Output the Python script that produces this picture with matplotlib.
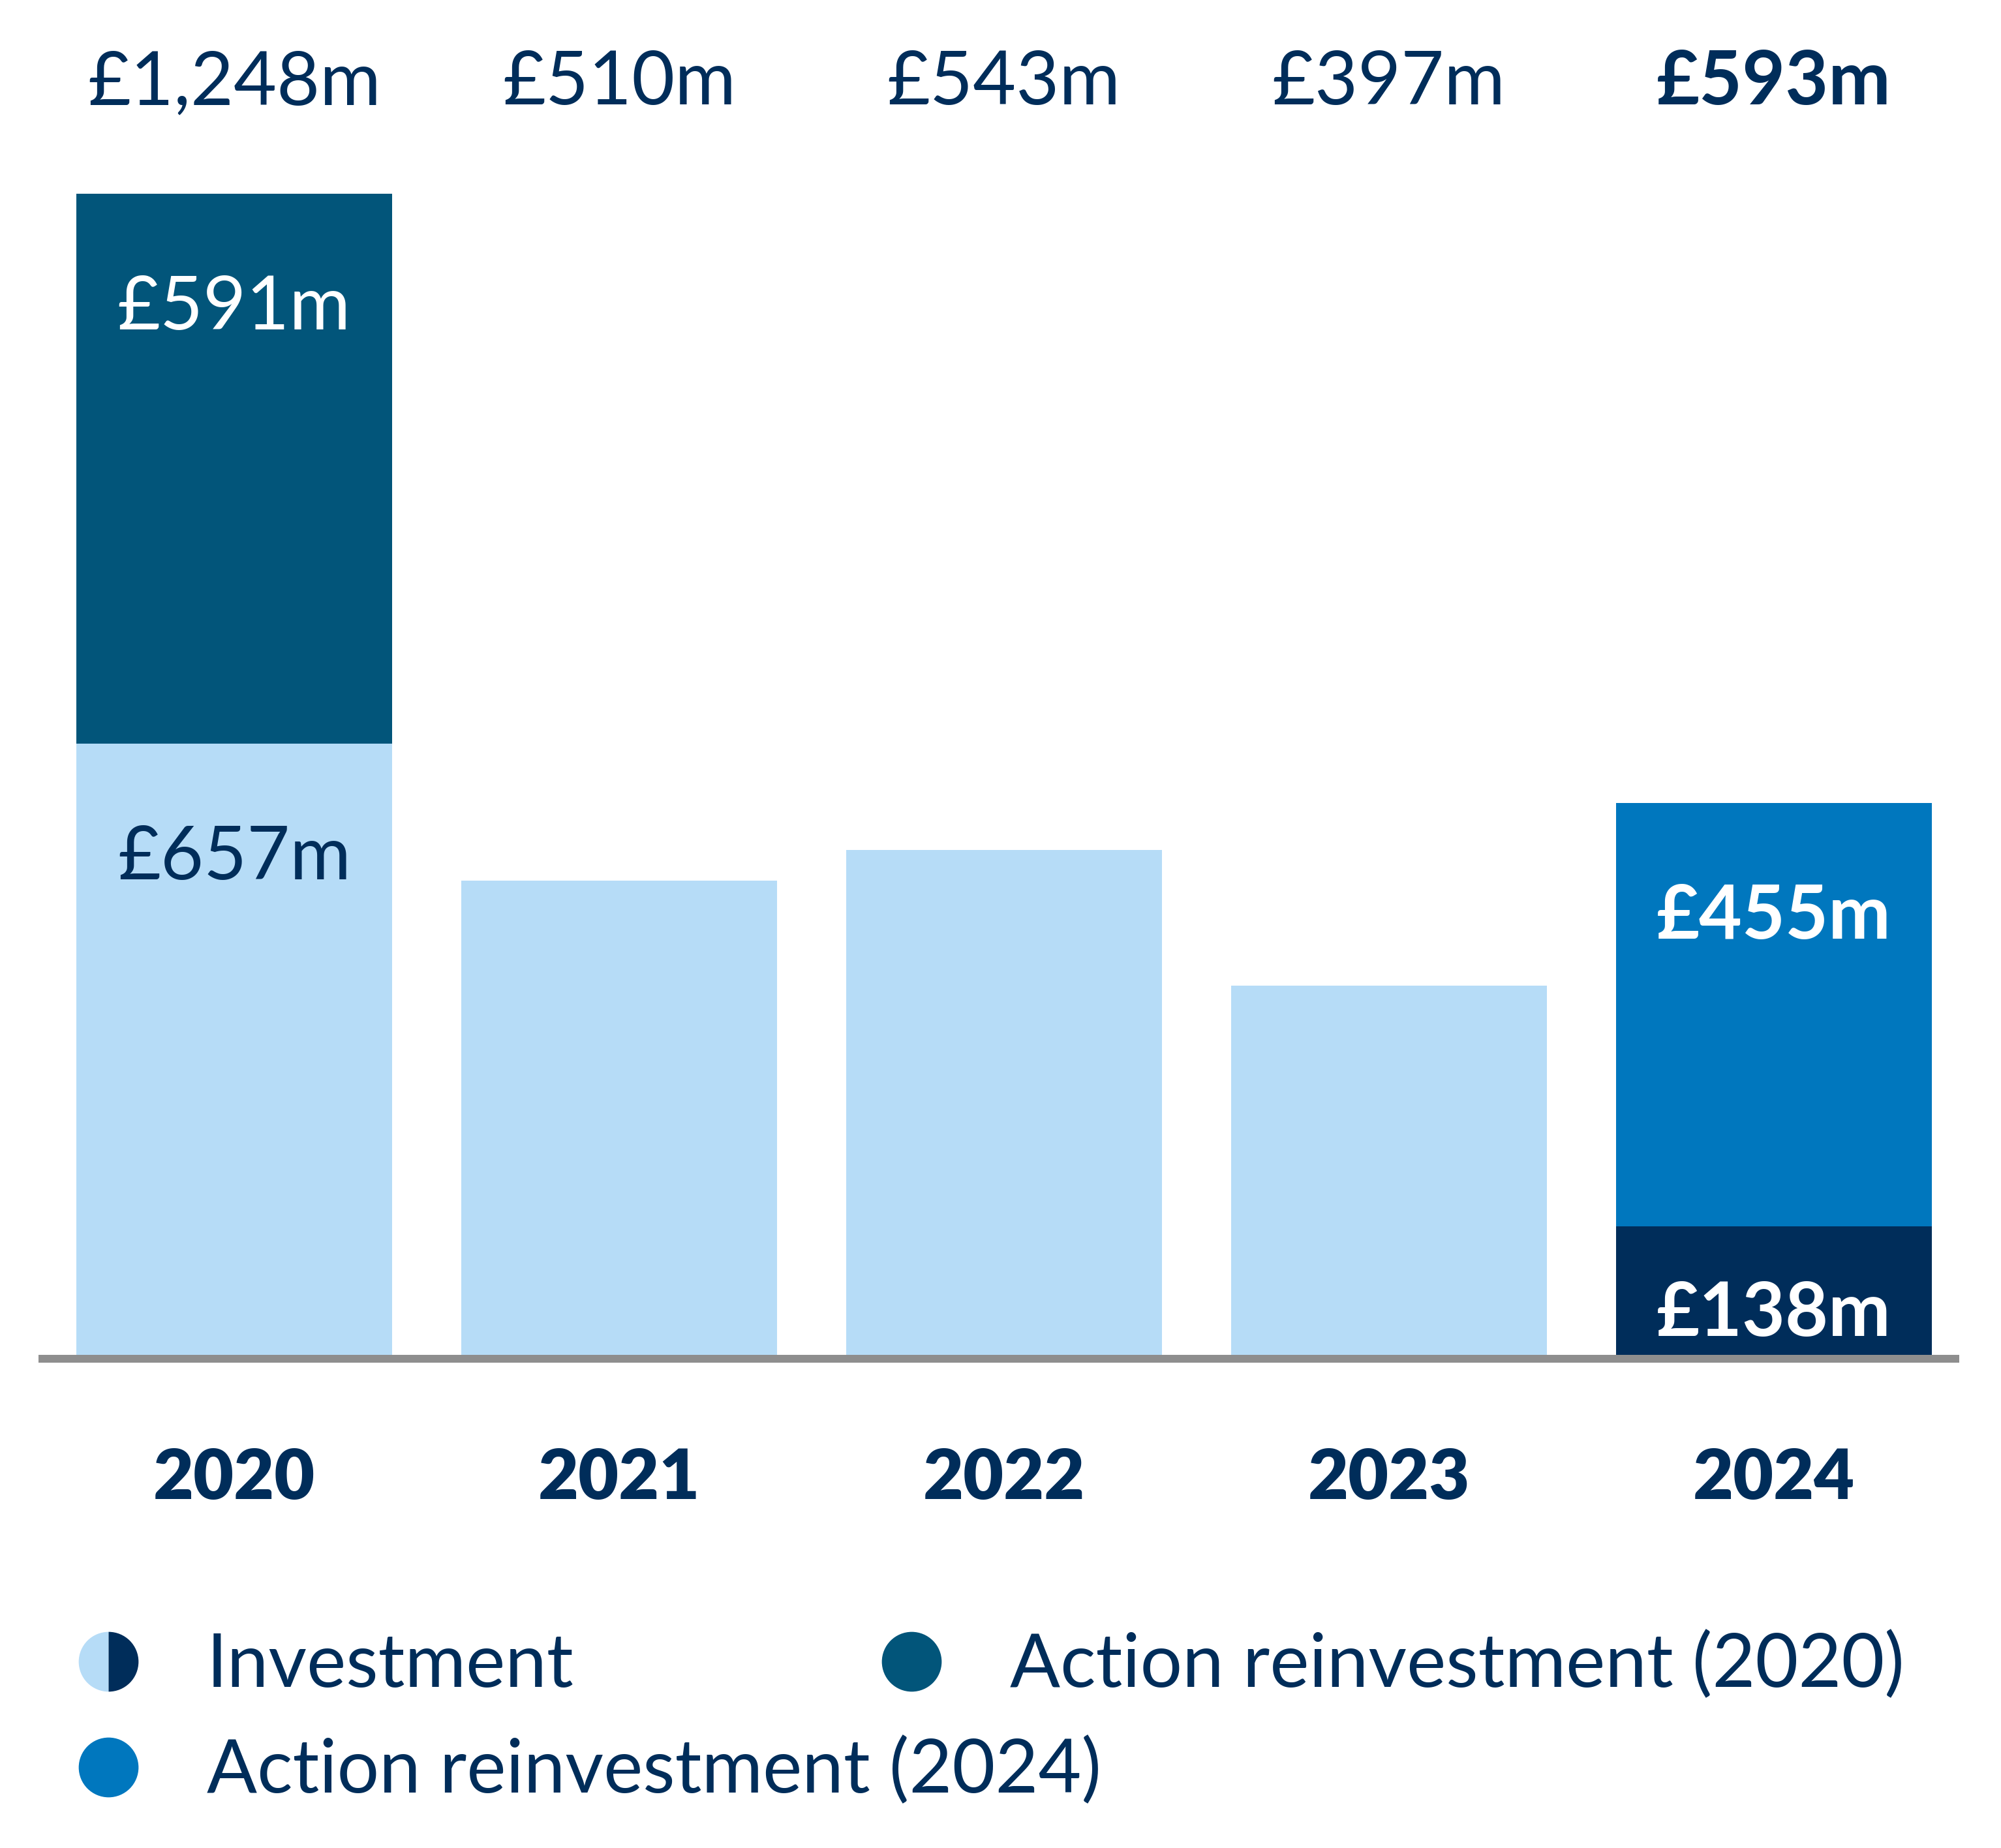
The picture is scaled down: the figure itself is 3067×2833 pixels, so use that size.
import matplotlib.pyplot as plt
import matplotlib.transforms as mtransforms
from matplotlib.lines import Line2D
import numpy as np

years = ["2020", "2021", "2022", "2023", "2024"]
investment = [657, 510, 543, 397, 138]
reinvest_2020 = [591, 0, 0, 0, 0]
reinvest_2024 = [0, 0, 0, 0, 455]

legend_labels = ["Investment", "Action reinvestment (2020)", "Action reinvestment (2024)"]

LIGHT = "#B6DCF7"
TEAL = "#02557A"
BLUE = "#0077BE"
NAVY = "#002D5A"
GREY = "#8E8E8E"

plt.rcParams['font.family'] = ['Lato', 'DejaVu Sans']

W, H = 3067, 2833
DPI = 100
fig = plt.figure(figsize=(W / DPI, H / DPI), dpi=DPI)

base_px = 2077
px_per_m = (base_px - 297) / 1248
ax = fig.add_axes([59 / W, 1 - base_px / H, (3003 - 59) / W, base_px / H])
ax.set_xlim(-0.508, 4.482)
ax.set_ylim(0, base_px / px_per_m)
ax.axis('off')

x = np.arange(len(years))
inv_colors = [LIGHT] * 4 + [NAVY]
width = 0.82

ax.bar(x, investment, width, color=inv_colors, linewidth=0)
ax.bar(x, reinvest_2020, width, bottom=investment, color=TEAL, linewidth=0)
bottom2 = np.array(investment) + np.array(reinvest_2020)
ax.bar(x, reinvest_2024, width, bottom=bottom2, color=BLUE, linewidth=0)

# baseline sits just under the bars
ax.axhline(-6 / px_per_m, color=GREY, linewidth=12 * 72 / DPI, zorder=3,
           clip_on=False, solid_capstyle='butt')

FS = 82
totals = np.array(investment) + np.array(reinvest_2020) + np.array(reinvest_2024)
trans_top = mtransforms.blended_transform_factory(ax.transData, ax.transAxes)
for i, t in enumerate(totals):
    last = i == len(years) - 1
    ax.text(x[i], (base_px - 160) / base_px, f"£{t:,}m", transform=trans_top,
            ha='center', va='baseline', fontsize=FS, color=NAVY,
            fontweight='bold' if last else 'normal')
    ax.text(x[i], -(2298 - base_px) / base_px, years[i], transform=trans_top,
            ha='center', va='baseline', fontsize=77, color=NAVY, fontweight='heavy')


def seg_label(i, bottom, value, color):
    if value == 0:
        return
    last = i == len(years) - 1
    h_px = value * px_per_m
    off = min(208, h_px - 29)
    ax.annotate(f"£{value}m", xy=(x[i], bottom + value), xytext=(0, -off * 72 / DPI),
                textcoords='offset points', ha='center', va='baseline',
                fontsize=FS, color=color, fontweight='bold' if last else 'normal')


# only stacked bars get segment labels
for i in range(len(years)):
    if reinvest_2020[i] or reinvest_2024[i]:
        seg_label(i, 0, investment[i], "white" if inv_colors[i] == NAVY else NAVY)
        seg_label(i, investment[i], reinvest_2020[i], "white")
        seg_label(i, bottom2[i], reinvest_2024[i], "white")

# legend, drawn by hand so the second column can sit where it does
leg_pos = [(166, 2547), (1397, 2547), (166, 2709)]
leg_colors = [(LIGHT, NAVY), (TEAL, TEAL), (BLUE, BLUE)]
for (mx, my), (c1, c2), lab in zip(leg_pos, leg_colors, legend_labels):
    fig.add_artist(Line2D([mx / W], [1 - my / H], marker='o', markersize=66,
                          fillstyle='left' if c1 != c2 else 'full',
                          markerfacecolor=c1, markerfacecoloralt=c2,
                          markeredgewidth=0, linestyle='none',
                          transform=fig.transFigure))
    fig.text((mx + 151) / W, 1 - (my + 39) / H, lab, ha='left', va='baseline',
             fontsize=FS, color=NAVY)

fig.savefig("out.png", dpi=DPI)
